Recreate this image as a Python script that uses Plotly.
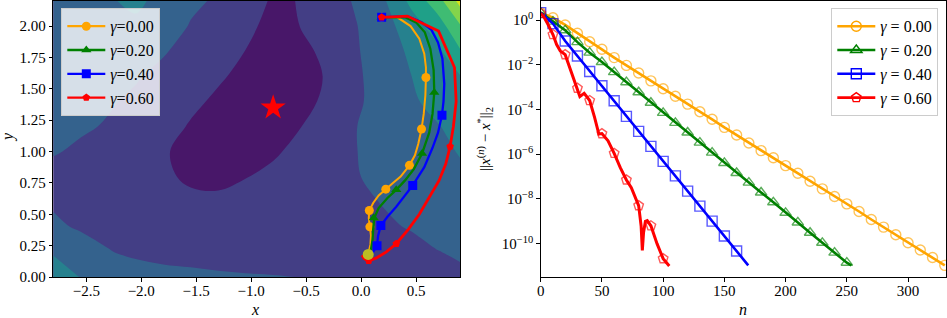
import numpy as np
import plotly.graph_objects as go

# ---------------- data: left panel (contour background) ----------------
grid_x = [-2.8, -2.55, -2.3, -2.05, -1.8, -1.55, -1.3, -1.05, -0.8, -0.55, -0.3, -0.05, 0.2, 0.45, 0.7, 0.9]
grid_y = [0.0, 0.2, 0.4, 0.6, 0.8, 1.0, 1.2, 1.4, 1.6, 1.8, 2.0, 2.2]
# contour level index (band k lies between k and k+1)
level_grid = [
    [3.3, 2.98, 2.7, 2.5, 2.35, 2.25, 2.15, 2.08, 2.04, 1.99, 1.9, 1.8, 1.7, 1.7, 1.75, 1.85],
    [2.95, 2.4, 2.05, 1.8, 1.65, 1.6, 1.55, 1.55, 1.55, 1.6, 1.65, 1.75, 1.8, 1.85, 1.98, 2.1],
    [2.15, 1.9, 1.7, 1.55, 1.45, 1.4, 1.4, 1.45, 1.55, 1.65, 1.75, 1.85, 1.93, 2.03, 2.3, 2.45],
    [1.9, 1.75, 1.6, 1.45, 1.3, 1.2, 1.2, 1.3, 1.45, 1.6, 1.75, 1.9, 2.02, 2.35, 2.55, 2.7],
    [1.8, 1.7, 1.6, 1.4, 1.15, 0.85, 0.75, 0.97, 1.25, 1.5, 1.7, 1.95, 2.2, 2.45, 2.65, 2.85],
    [2.05, 1.9, 1.75, 1.55, 1.1, 0.7, 0.35, 0.4, 0.85, 1.3, 1.65, 1.98, 2.25, 2.5, 2.8, 3.05],
    [2.1, 2.08, 1.95, 1.75, 1.45, 0.9, 0.5, 0.2, 0.3, 0.98, 1.5, 1.98, 2.3, 2.6, 2.97, 3.2],
    [2.2, 2.1, 2.06, 1.9, 1.7, 1.25, 0.8, 0.35, 0.2, 0.7, 1.2, 1.85, 2.35, 2.9, 3.2, 3.4],
    [2.3, 2.25, 2.15, 2.05, 1.85, 1.6, 1.15, 0.7, 0.3, 0.6, 1.1, 1.85, 2.4, 2.98, 3.4, 3.95],
    [2.4, 2.45, 2.5, 2.35, 2.05, 1.8, 1.5, 0.98, 0.4, 0.7, 1.3, 1.9, 2.5, 3.15, 3.8, 4.9],
    [2.5, 2.6, 2.75, 2.8, 2.4, 1.95, 1.7, 1.3, 0.62, 1.02, 1.5, 1.95, 2.6, 3.5, 4.5, 5.9],
    [2.6, 2.75, 2.9, 3.2, 2.7, 2.15, 1.9, 1.8, 0.8, 1.05, 1.5, 2.1, 2.85, 4.2, 5.6, 7.3],
]
band_colors = ["#481769", "#433e85", "#34628d", "#26818e", "#1fa088", "#3fbc73", "#84d44b", "#d8e219"]

star_x, star_y = [-0.8], [1.35]
end_x, end_y = [0.065], [0.18]

gammas = ["0.00", "0.20", "0.40", "0.60"]
colors = ["#ffa500", "#008000", "#0000ff", "#ff0000"]
fill_symbols = ["circle", "triangle-up", "square", "pentagon"]
open_symbols = ["circle-open", "triangle-up-open", "square-open", "pentagon-open"]

# trajectories (paths) and marked iterates
traj_x = [
    [0.187, 0.33, 0.45, 0.53, 0.575, 0.59, 0.59, 0.585, 0.57, 0.55, 0.52, 0.49, 0.44, 0.36, 0.29, 0.225, 0.16, 0.11, 0.075, 0.07, 0.08, 0.09, 0.085, 0.065],
    [0.187, 0.40, 0.50, 0.58, 0.63, 0.66, 0.666, 0.65, 0.62, 0.555, 0.48, 0.40, 0.32, 0.24, 0.16, 0.12, 0.11, 0.105, 0.09, 0.065],
    [0.187, 0.42, 0.55, 0.64, 0.70, 0.74, 0.757, 0.75, 0.736, 0.70, 0.65, 0.575, 0.47, 0.39, 0.32, 0.24, 0.18, 0.155, 0.145, 0.11, 0.065],
    [0.187, 0.42, 0.705, 0.85, 0.865, 0.84, 0.81, 0.77, 0.71, 0.62, 0.53, 0.43, 0.32, 0.23, 0.136, 0.07, 0.03, 0.015, 0.04, 0.065],
]
traj_y = [
    [2.07, 2.07, 2.0, 1.90, 1.78, 1.67, 1.59, 1.45, 1.30, 1.18, 1.06, 0.97, 0.89, 0.80, 0.75, 0.70, 0.65, 0.59, 0.53, 0.47, 0.40, 0.33, 0.26, 0.18],
    [2.07, 2.07, 2.03, 1.95, 1.82, 1.65, 1.47, 1.30, 1.15, 0.985, 0.86, 0.77, 0.695, 0.63, 0.55, 0.47, 0.38, 0.30, 0.22, 0.18],
    [2.07, 2.08, 2.03, 1.97, 1.87, 1.74, 1.54, 1.40, 1.29, 1.15, 1.03, 0.875, 0.73, 0.64, 0.56, 0.48, 0.41, 0.33, 0.25, 0.20, 0.18],
    [2.07, 2.08, 1.96, 1.67, 1.40, 1.20, 1.04, 0.90, 0.77, 0.63, 0.50, 0.38, 0.265, 0.20, 0.15, 0.13, 0.145, 0.165, 0.18, 0.18],
]
mark_x = [
    [0.187, 0.59, 0.55, 0.44, 0.225, 0.075, 0.08],
    [0.187, 0.666, 0.555, 0.32, 0.115],
    [0.187, 0.736, 0.47, 0.18, 0.145],
    [0.187, 0.81, 0.32, 0.07],
]
mark_y = [
    [2.07, 1.59, 1.18, 0.89, 0.70, 0.53, 0.40],
    [2.07, 1.47, 0.985, 0.695, 0.47],
    [2.07, 1.29, 0.73, 0.41, 0.25],
    [2.07, 1.04, 0.265, 0.13],
]

# ---------------- data: right panel (log10 of error vs iteration n) ----------------
n_orange = [0, 10, 20, 30, 40, 50, 60, 70, 80, 90, 100, 110, 120, 130, 140, 150, 160, 170, 180, 190,
            200, 210, 220, 230, 240, 250, 260, 270, 280, 290, 300, 310, 320, 330]
lg_orange = [0.33, 0.10, -0.22, -0.59, -0.97, -1.31, -1.68, -2.03, -2.37, -2.72, -3.07, -3.41, -3.76, -4.10,
             -4.44, -4.80, -5.14, -5.50, -5.84, -6.16, -6.51, -6.85, -7.21, -7.55, -7.89, -8.22, -8.56,
             -8.92, -9.26, -9.60, -9.96, -10.28, -10.62, -10.97]
n_green = [0, 10, 20, 30, 40, 50, 60, 70, 80, 90, 100, 110, 120, 130, 140, 150, 160, 170, 180, 190,
           200, 210, 220, 230, 240, 250, 253.7]
lg_green = [0.33, -0.07, -0.46, -0.99, -1.46, -1.88, -2.33, -2.78, -3.23, -3.70, -4.15, -4.60, -5.03, -5.48,
            -5.93, -6.39, -6.84, -7.27, -7.71, -8.15, -8.62, -9.05, -9.51, -9.96, -10.40, -10.85, -10.97]
n_blue = [0, 10, 20, 30, 40, 50, 60, 70, 80, 90, 100, 110, 120, 130, 140, 150, 160, 169.5]
lg_blue = [0.33, -0.16, -0.94, -1.61, -2.30, -2.94, -3.61, -4.31, -4.98, -5.65, -6.32, -6.97, -7.65, -8.32,
           -8.99, -9.66, -10.33, -10.97]
n_red = [0, 3, 6, 10, 13, 16, 20, 24, 30, 32, 35.5, 40, 44, 47.5, 50, 55, 60, 65, 70, 74, 80, 82, 83, 84,
         85.5, 87, 90, 95, 100, 105]
lg_red = [0.30, 0.10, -0.20, -0.65, -1.10, -1.38, -1.55, -2.15, -3.05, -3.42, -3.28, -3.60, -4.35, -5.10,
          -5.08, -5.40, -5.96, -6.60, -7.15, -7.50, -8.30, -9.20, -10.30, -9.50, -9.00, -8.97, -9.20,
          -10.00, -10.67, -11.00]
red_mark_n = [0, 10, 20, 30, 40, 50, 60, 70, 80, 90, 100]

# ---------------- figure ----------------
W, H = 947, 318
FONT = "'Liberation Serif', 'Times New Roman', 'DejaVu Serif', serif"
fig = go.Figure()

cscale = [[k / (len(band_colors) - 1), c] for k, c in enumerate(band_colors)]
fig.add_trace(go.Contour(
    x=grid_x, y=grid_y, z=level_grid, colorscale=cscale, showscale=False,
    autocontour=False, contours=dict(start=1, end=7, size=1, coloring="fill", showlines=False),
    line=dict(width=0, smoothing=1.0), hoverinfo="skip", xaxis="x", yaxis="y", showlegend=False))

fig.add_trace(go.Scatter(x=star_x, y=star_y, mode="markers", xaxis="x", yaxis="y", showlegend=False,
                         marker=dict(symbol="star", size=19, color="#ff0000", line=dict(width=0))))

lw_left = [2.0, 2.3, 2.3, 2.8]
msize_left = [9, 9, 9, 8]
for i in range(4):
    fig.add_trace(go.Scatter(x=traj_x[i], y=traj_y[i], mode="lines", xaxis="x", yaxis="y", showlegend=False,
                             line=dict(color=colors[i], width=lw_left[i])))
    fig.add_trace(go.Scatter(x=mark_x[i], y=mark_y[i], mode="markers", xaxis="x", yaxis="y", showlegend=False,
                             marker=dict(symbol=fill_symbols[i], size=msize_left[i], color=colors[i],
                                         line=dict(width=0))))
    fig.add_trace(go.Scatter(x=[None], y=[None], mode="lines+markers", xaxis="x", yaxis="y",
                             name=f"<i>γ</i>={gammas[i]}", legend="legend",
                             line=dict(color=colors[i], width=2.3),
                             marker=dict(symbol=fill_symbols[i], size=msize_left[i], color=colors[i])))

fig.add_trace(go.Scatter(x=end_x, y=end_y, mode="markers", xaxis="x", yaxis="y", showlegend=False,
                         marker=dict(symbol="circle", size=11, color="#bcbd22", line=dict(width=0))))

# right panel
right_n = [n_orange, n_green, n_blue, n_red]
right_lg = [lg_orange, lg_green, lg_blue, lg_red]
for i in range(4):
    ys = np.power(10.0, right_lg[i])
    fig.add_trace(go.Scatter(x=right_n[i], y=ys, mode="lines", xaxis="x2", yaxis="y2", showlegend=False,
                             line=dict(color=colors[i], width=2.6 if i < 3 else 3.0)))
    if i < 3:
        mn = [v for v in right_n[i] if float(v).is_integer() and int(v) % 10 == 0]
        my = [ys[k] for k, v in enumerate(right_n[i]) if float(v).is_integer() and int(v) % 10 == 0]
    else:
        mn = red_mark_n
        my = [ys[right_n[i].index(v)] for v in red_mark_n]
    fig.add_trace(go.Scatter(x=mn, y=my, mode="markers", xaxis="x2", yaxis="y2", showlegend=False,
                             opacity=0.65,
                             marker=dict(symbol=open_symbols[i], size=10, color=colors[i],
                                         line=dict(width=1.4, color=colors[i]))))
    fig.add_trace(go.Scatter(x=[None], y=[None], mode="lines+markers", xaxis="x2", yaxis="y2",
                             name=f"<i>γ</i> = {gammas[i]}", legend="legend2",
                             line=dict(color=colors[i], width=2.6),
                             marker=dict(symbol=open_symbols[i], size=10, color=colors[i],
                                         line=dict(width=1.4, color=colors[i]))))

top, bot = 1, 41
ph = H - top - bot
def py(p):
    return 1 - (p - top) / ph

axis_common = dict(showgrid=False, zeroline=False, showline=True, mirror=True, linecolor="black",
                   linewidth=1, ticks="outside", ticklen=3.5, tickwidth=0.8, tickcolor="black",
                   tickfont=dict(family=FONT, size=15, color="black"), layer="above traces",
                   automargin=False)

left_xt = [-2.5, -2.0, -1.5, -1.0, -0.5, 0.0, 0.5]
left_yt = [0.0, 0.25, 0.5, 0.75, 1.0, 1.25, 1.5, 1.75, 2.0]
right_xt = [0, 50, 100, 150, 200, 250, 300]
right_yexp = [0, -2, -4, -6, -8, -10]

legend_common = dict(yanchor="top", bgcolor="rgba(255,255,255,0.8)", bordercolor="#cccccc", borderwidth=1,
                     font=dict(family=FONT, size=16, color="black"), tracegroupgap=0, itemwidth=38)

fig.update_layout(
    width=W, height=H, margin=dict(l=0, r=0, t=top, b=bot, autoexpand=False),
    paper_bgcolor="white", plot_bgcolor="white",
    font=dict(family=FONT, size=15, color="black"),
    xaxis=dict(domain=[53.3 / W, 460 / W], range=[-2.8, 0.9], ticklabelstandoff=-4,
               tickvals=left_xt, ticktext=[f"{v:.1f}".replace("-", "\u2212") for v in left_xt], **axis_common),
    yaxis=dict(domain=[0, 1], range=[0, 2.2], anchor="x",
               tickvals=left_yt, ticktext=[f"{v:.2f}" for v in left_yt], **axis_common),
    xaxis2=dict(domain=[540.7 / W, 946 / W], range=[0, 331], anchor="y2", ticklabelstandoff=-4,
                tickvals=right_xt, ticktext=[str(v) for v in right_xt], **axis_common),
    yaxis2=dict(domain=[0, 1], type="log", range=[-11.49, 0.85], anchor="x2",
                tickvals=[10.0 ** e for e in right_yexp],
                ticktext=[f"10<sup>{str(e).replace('-', chr(0x2212))}</sup>" for e in right_yexp],
                **axis_common),
    legend=dict(x=61.3 / W, y=py(8.3), xanchor="left", **legend_common),
    legend2=dict(x=938.3 / W, y=py(8.3), xanchor="right", **legend_common),
    annotations=[
        dict(text="<i>x</i>", x=255 / W, y=py(309), xref="paper", yref="paper", showarrow=False,
             xanchor="center", yanchor="middle", font=dict(family=FONT, size=16)),
        dict(text="<i>y</i>", x=8 / W, y=py(137), xref="paper", yref="paper", showarrow=False,
             xanchor="center", yanchor="middle", textangle=-90, font=dict(family=FONT, size=16)),
        dict(text="<i>n</i>", x=743 / W, y=py(309), xref="paper", yref="paper", showarrow=False,
             xanchor="center", yanchor="middle", font=dict(family=FONT, size=16)),
        dict(text="||<i>x</i><sup>(<i>n</i>)</sup> \u2212 <i>x</i><sup>*</sup>||<sub>2</sub>",
             x=485 / W, y=py(139), xref="paper", yref="paper", showarrow=False,
             xanchor="center", yanchor="middle", textangle=-90, font=dict(family=FONT, size=15)),
    ],
)

fig.write_html("out.html", config={"displayModeBar": False},
               post_script="document.body.style.margin='0';document.body.style.padding='0';")
